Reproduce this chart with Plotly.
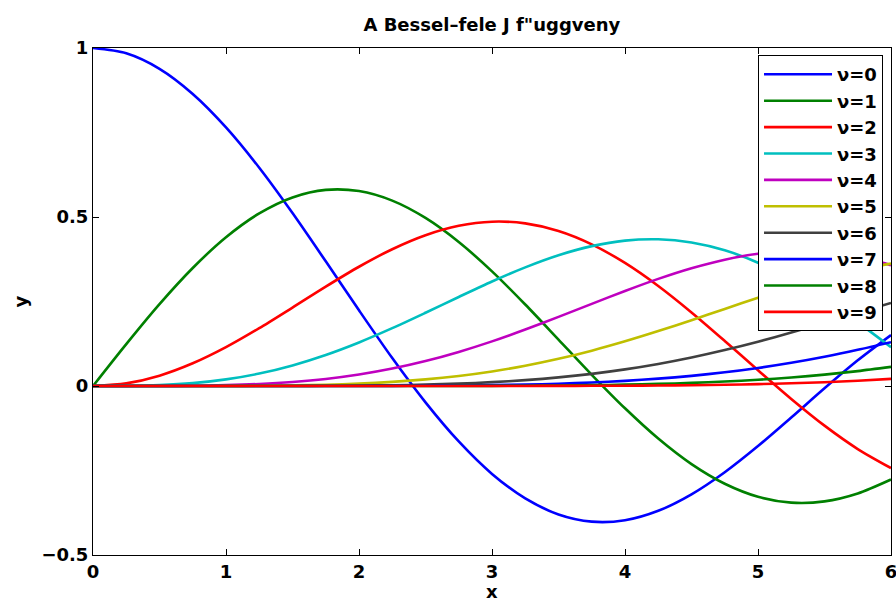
import plotly.graph_objects as go

x = [0, 0.25, 0.5, 0.75, 1, 1.25, 1.5, 1.75, 2, 2.25, 2.5, 2.75, 3,
     3.25, 3.5, 3.75, 4, 4.25, 4.5, 4.75, 5, 5.25, 5.5, 5.75, 6]

j0 = [1, 0.9844, 0.9385, 0.8642, 0.7652, 0.6459, 0.5118, 0.3690, 0.2239, 0.0827,
      -0.0484, -0.1641, -0.2601, -0.3327, -0.3801, -0.4014, -0.3972, -0.3692,
      -0.3205, -0.2551, -0.1776, -0.0931, -0.0068, 0.0759, 0.1506]
j1 = [0, 0.1240, 0.2423, 0.3492, 0.4401, 0.5106, 0.5579, 0.5802, 0.5767, 0.5484,
      0.4971, 0.4260, 0.3391, 0.2411, 0.1374, 0.0332, -0.0660, -0.1555, -0.2311,
      -0.2891, -0.3276, -0.3450, -0.3414, -0.3179, -0.2767]
j2 = [0, 0.0078, 0.0306, 0.0671, 0.1149, 0.1711, 0.2321, 0.2940, 0.3528, 0.4047,
      0.4461, 0.4739, 0.4861, 0.4811, 0.4586, 0.4191, 0.3641, 0.2960, 0.2178,
      0.1334, 0.0466, -0.0383, -0.1173, -0.1865, -0.2429]
j3 = [0, 0.0003, 0.0026, 0.0085, 0.0196, 0.0369, 0.0610, 0.0919, 0.1289, 0.1711,
      0.2166, 0.2634, 0.3091, 0.3510, 0.3868, 0.4138, 0.4302, 0.4341, 0.4247,
      0.4015, 0.3648, 0.3158, 0.2561, 0.1881, 0.1148]
j4 = [0, 0.0000, 0.0002, 0.0008, 0.0025, 0.0059, 0.0118, 0.0209, 0.0340, 0.0515,
      0.0738, 0.1008, 0.1320, 0.1670, 0.2044, 0.2430, 0.2811, 0.3169, 0.3484,
      0.3738, 0.3912, 0.3992, 0.3967, 0.3829, 0.3576]
j5 = [0, 0.0000, 0.0000, 0.0001, 0.0003, 0.0007, 0.0018, 0.0038, 0.0070, 0.0121,
      0.0195, 0.0297, 0.0430, 0.0599, 0.0804, 0.1046, 0.1321, 0.1624, 0.1947,
      0.2281, 0.2611, 0.2926, 0.3209, 0.3446, 0.3621]
j6 = [0, 0.0000, 0.0000, 0.0000, 0.0000, 0.0001, 0.0002, 0.0006, 0.0012, 0.0023,
      0.0042, 0.0071, 0.0114, 0.0174, 0.0254, 0.0359, 0.0491, 0.0652, 0.0843,
      0.1063, 0.1310, 0.1581, 0.1868, 0.2164, 0.2458]
j7 = [0, 0.0000, 0.0000, 0.0000, 0.0000, 0.0000, 0.0000, 0.0001, 0.0002, 0.0004,
      0.0008, 0.0014, 0.0025, 0.0042, 0.0067, 0.0103, 0.0152, 0.0217, 0.0300,
      0.0405, 0.0534, 0.0687, 0.0866, 0.1070, 0.1296]
j8 = [0, 0.0000, 0.0000, 0.0000, 0.0000, 0.0000, 0.0000, 0.0000, 0.0000, 0.0001,
      0.0001, 0.0003, 0.0005, 0.0009, 0.0015, 0.0025, 0.0040, 0.0062, 0.0091,
      0.0131, 0.0184, 0.0252, 0.0337, 0.0441, 0.0565]
j9 = [0, 0.0000, 0.0000, 0.0000, 0.0000, 0.0000, 0.0000, 0.0000, 0.0000, 0.0000,
      0.0000, 0.0000, 0.0001, 0.0002, 0.0003, 0.0006, 0.0009, 0.0015, 0.0024,
      0.0037, 0.0055, 0.0080, 0.0113, 0.0156, 0.0212]

series = [j0, j1, j2, j3, j4, j5, j6, j7, j8, j9]
names = ["ν=0", "ν=1", "ν=2", "ν=3", "ν=4", "ν=5", "ν=6", "ν=7", "ν=8", "ν=9"]
colors = ["#0000FF", "#008000", "#FF0000", "#00BFBF", "#BF00BF", "#BFBF00",
          "#404040", "#0000FF", "#008000", "#FF0000"]

x_ticks = [0, 1, 2, 3, 4, 5, 6]
x_ticklabels = ["0", "1", "2", "3", "4", "5", "6"]
y_ticks = [-0.5, 0, 0.5, 1]
y_ticklabels = ["−0.5", "0", "0.5", "1"]

FONT = "DejaVu Sans, Liberation Sans, Arial, sans-serif"

fig = go.Figure()
for i, (ys, nm, c) in enumerate(zip(series, names, colors)):
    fig.add_trace(go.Scatter(x=x, y=ys, mode="lines", name=nm, legendgroup=f"g{i}",
                             line=dict(color=c, width=2.6, shape="spline", smoothing=0.8)))

axis_common = dict(showgrid=False, zeroline=False, showline=True, linecolor="black",
                   linewidth=1, mirror="ticks", ticks="inside", ticklen=6,
                   tickcolor="black", tickwidth=1, ticklabeloverflow="allow",
                   automargin=False,
                   tickfont=dict(family=FONT, size=18, color="black", weight="bold"))

fig.update_layout(
    width=896, height=598,
    margin=dict(l=93, r=5, t=48, b=43, pad=0, autoexpand=False),
    paper_bgcolor="white", plot_bgcolor="white",
    title=dict(text="A Bessel–fele J f\"uggveny", x=0.549, xanchor="center",
               y=0.958, yanchor="middle",
               font=dict(family=FONT, size=18, color="black", weight="bold")),
    xaxis=dict(range=[0, 6], tickvals=x_ticks, ticktext=x_ticklabels, **axis_common),
    yaxis=dict(range=[-0.5, 1], tickvals=y_ticks, ticktext=y_ticklabels, **axis_common),
    legend=dict(x=0.990, y=0.986, xanchor="right", yanchor="top",
                bgcolor="white", bordercolor="black", borderwidth=1,
                font=dict(family=FONT, size=18, color="black", weight="bold"),
                tracegroupgap=0, itemwidth=68),
    showlegend=True,
)
fig.add_annotation(text="x", xref="paper", yref="paper", x=0.5, y=0, yanchor="top",
                   yshift=-24, showarrow=False,
                   font=dict(family=FONT, size=18, color="black", weight="bold"))
fig.add_annotation(text="y", xref="paper", yref="paper", x=0, y=0.5, xanchor="center",
                   xshift=-73, textangle=-90, showarrow=False,
                   font=dict(family=FONT, size=18, color="black", weight="bold"))

fig.write_html("out.html")
